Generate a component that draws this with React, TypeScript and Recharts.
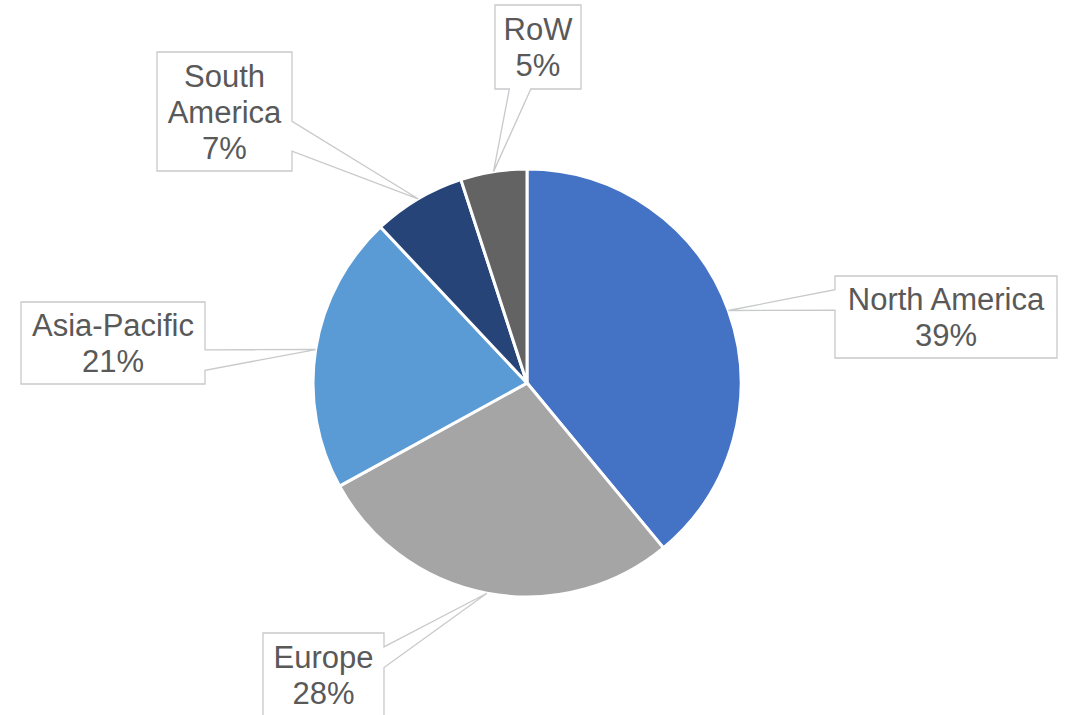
import React from 'react';
import { PieChart, Pie, Cell } from 'recharts';

const regions = ['North America', 'Europe', 'Asia-Pacific', 'South America', 'RoW'];
const shares = [39, 28, 21, 7, 5];
const sliceColors = ['#4472C4', '#A5A5A5', '#5B9BD5', '#264478', '#636363'];
// label text as it wraps in the callouts
const labelLines = [['North America'], ['Europe'], ['Asia-Pacific'], ['South', 'America'], ['RoW']];

// callout boxes, placed relative to the pie centre
const calloutBoxes = [
  { left: 308, top: -107, w: 222, h: 82 },
  { left: -264, top: 250, w: 121, h: 83 },
  { left: -506, top: -81, w: 184, h: 82 },
  { left: -370, top: -331, w: 135, h: 119 },
  { left: -32, top: -378, w: 86, h: 84 },
];

const data = regions.map((name, i) => ({ name, value: shares[i] }));

const RADIAN = Math.PI / 180;

// Excel style wedge rectangle callout
function calloutPath(x0: number, y0: number, w: number, h: number, tx: number, ty: number) {
  const x1 = x0 + w;
  const y1 = y0 + h;
  const mx = x0 + w / 2;
  const my = y0 + h / 2;
  const dx = (tx - mx) / w;
  const dy = (ty - my) / h;
  let pts: number[][];
  if (Math.abs(dx) > Math.abs(dy)) {
    const a = ty < my ? y0 + (h * 2) / 12 : y0 + (h * 7) / 12;
    const b = ty < my ? y0 + (h * 5) / 12 : y0 + (h * 10) / 12;
    if (dx > 0) {
      pts = [[x0, y0], [x1, y0], [x1, a], [tx, ty], [x1, b], [x1, y1], [x0, y1]];
    } else {
      pts = [[x0, y0], [x1, y0], [x1, y1], [x0, y1], [x0, b], [tx, ty], [x0, a]];
    }
  } else {
    const a = tx < mx ? x0 + (w * 2) / 12 : x0 + (w * 7) / 12;
    const b = tx < mx ? x0 + (w * 5) / 12 : x0 + (w * 10) / 12;
    if (dy > 0) {
      pts = [[x0, y0], [x1, y0], [x1, y1], [b, y1], [tx, ty], [a, y1], [x0, y1]];
    } else {
      pts = [[x0, y0], [a, y0], [tx, ty], [b, y0], [x1, y0], [x1, y1], [x0, y1]];
    }
  }
  return 'M' + pts.map((p) => p.join(',')).join('L') + 'Z';
}

const renderCallout = (props: any) => {
  const { cx, cy, midAngle, outerRadius, index } = props;
  const tx = cx + outerRadius * Math.cos(-midAngle * RADIAN);
  const ty = cy + outerRadius * Math.sin(-midAngle * RADIAN);
  const box = calloutBoxes[index];
  const x0 = cx + box.left;
  const y0 = cy + box.top;
  const lines = [...labelLines[index], `${shares[index]}%`];
  const midY = y0 + box.h / 2;
  return (
    <g key={`callout-${index}`}>
      <path
        d={calloutPath(x0, y0, box.w, box.h, tx, ty)}
        fill="#ffffff"
        stroke="#c8c9cb"
        strokeWidth={1.3}
      />
      {lines.map((t, i) => (
        <text
          key={i}
          x={x0 + box.w / 2}
          y={midY + (i - (lines.length - 1) / 2) * 36 + 11}
          textAnchor="middle"
          fill="#595959"
          fontSize={31}
          fontFamily="'Liberation Sans', Arial, sans-serif"
        >
          {t}
        </text>
      ))}
    </g>
  );
};

export default function App() {
  return (
    <div style={{ position: 'absolute', left: 0, top: 0, background: '#fff' }}>
      <PieChart width={1068} height={715} margin={{ top: 0, right: 0, bottom: 0, left: 0 }}>
        <Pie
          data={data}
          dataKey="value"
          nameKey="name"
          cx={527}
          cy={383}
          outerRadius={214}
          startAngle={90}
          endAngle={-270}
          stroke="#ffffff"
          strokeWidth={3}
          labelLine={false}
          label={renderCallout}
          isAnimationActive={false}
        >
          {data.map((d, i) => (
            <Cell key={d.name} fill={sliceColors[i]} />
          ))}
        </Pie>
      </PieChart>
    </div>
  );
}
